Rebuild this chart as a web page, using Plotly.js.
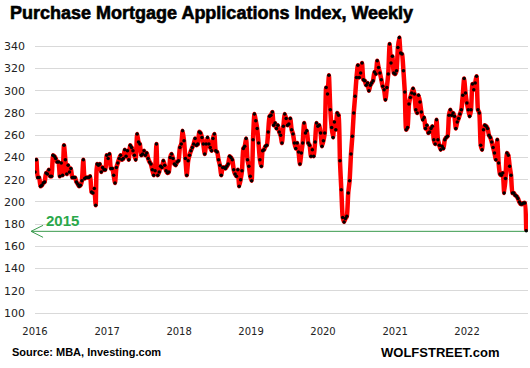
<!DOCTYPE html>
<html>
<head>
<meta charset="utf-8">
<script src="https://cdn.plot.ly/plotly-3.0.1.min.js"></script>
<style>
html,body{margin:0;padding:0;background:#fff;}
#chart{width:530px;height:368px;}
g.annotation[data-index="0"] text{stroke:#000;stroke-width:0.6px;}
</style>
</head>
<body>
<div id="chart"></div>
<script>
// Weekly MBA Purchase Index, first week ending 2016-01-01
const startDate = '2016-01-01';
const v2016 = [227,238,222,222,214,215,217,218,226,225,229,223,223,242,241,239,236,236,223,235,224,251,238,225,233,227,230,222,222,222,218,216,214,215,219,238,221,222,222,222,223,209,208,212,197,234,233,234,227,231,229,229,242,239,243,230,230,224,217,231,235,239,242,238,239,247,241,246,238,251,249];
const v2017 = [246,242,238,261,254,252,242,243,246,242,244,239,236,234,229,224,228,252,224,227,232,231,237,233,228,226,227,240,243,239,234,233,236,237,249,252,264,255,239,224,237,242,246,249,252,257,251,252,263,262,258,252,243,252,258,252,249,246,257,261,246,245,238,233,224,231,231,230];
const v2018 = [232,234,241,240,238,229,225,223,229,214,220,228,248,250,257,238,232,223,219,256,279,273,266,253,238,232,246,247,250,251,263,277,278,281,269,271,266,269,263,260,253,268,279,275,269,270,275,265,261,253,248,253,245,234,244,253,271,262,264,253,251,241,247,241,254,271,268,269];
const v2020 = [262,250,255,262,303,297,314,283,267,258,272,265,280,278,237,211,186,182,185,187,208,219,243,259,280,295,312,323,312,316,325,310,309,305,307,300,305,307,309,317,315,327,321,316,310,304,301,292,303,315,342,325,331,316,315,318,339,348,334,333,318,299,265,267,288,294,298,302,297];
const v2021 = [283,280,296,290,281,274,276,266,269,262,263,266,268,256,252,274,256,251,247,250,248,256,258,259,278,283,278,280,277,266,272,275,279,283,296,311,298,289,283,277,283,306,301,307,313,283,280,251,247,265,269,268,266,260,258,254,249,244,238,256,235,225,224,226,208,221,244,242,232,224,208,208,206,205,203,200,198,198,199,199,174];
const level2015 = 173.5;
const yTicks = [100,120,140,160,180,200,220,240,260,280,300,320,340];
const xTickYears = ['2016','2017','2018','2019','2020','2021','2022'];

const values = [].concat(v2016, v2017, v2018, v2020, v2021);
const dates = values.map((_, i) => {
  const d = new Date(startDate + 'T00:00:00Z');
  d.setUTCDate(d.getUTCDate() + 7 * i);
  return d.toISOString().slice(0, 10);
});

const trace = {
  x: dates, y: values, type: 'scatter', mode: 'lines+markers',
  line: {color: '#ff0000', width: 4.5, shape: 'spline', smoothing: 0.5},
  marker: {color: '#000000', size: 3.5},
  hoverinfo: 'skip'
};

const layout = {
  width: 530, height: 368,
  margin: {l: 35, r: 2, t: 33, b: 55},
  paper_bgcolor: '#ffffff', plot_bgcolor: '#ffffff',
  showlegend: false,
  title: {text: '', font: {size: 1}},
  xaxis: {type: 'date', range: ['2016-01-01', '2022-11-06'],
    tickvals: xTickYears.map(y => y + '-01-01'), ticktext: xTickYears,
    showgrid: false, zeroline: false, showline: true, linecolor: '#d9d9d9', linewidth: 1,
    ticks: '', ticklabelstandoff: 9,
    tickfont: {family: 'DejaVu Sans, sans-serif', size: 10, color: '#222'}},
  yaxis: {range: [100, 352], tickvals: yTicks, showgrid: true, gridcolor: '#d9d9d9', gridwidth: 1,
    zeroline: false, ticks: '', ticklabelstandoff: 9,
    tickfont: {family: 'DejaVu Sans, sans-serif', size: 11, color: '#222'}},
  shapes: [
    {type: 'line', xref: 'paper', yref: 'y', x0: -0.008, x1: 1, y0: level2015, y1: level2015,
      line: {color: '#3a9a4e', width: 1}, layer: 'below'},
    {type: 'path', xref: 'paper', yref: 'y', xsizemode: 'pixel', ysizemode: 'pixel',
      xanchor: -0.008, yanchor: level2015, path: 'M 12,6 L 0,0 L 12,-6',
      line: {color: '#3a9a4e', width: 1}}
  ],
  annotations: [
    {text: '<b>Purchase Mortgage Applications Index, Weekly</b>', xref: 'paper', yref: 'paper',
      x: -27/493, y: 1 + 20/280, xanchor: 'left', yanchor: 'middle', showarrow: false,
      font: {family: 'Liberation Sans, Arial, sans-serif', size: 18, color: '#000', weight: 700}},
    {text: '<b>2015</b>', xref: 'paper', yref: 'y', x: 0.018, y: 183, xanchor: 'left', yanchor: 'middle',
      showarrow: false, font: {family: 'Liberation Sans, Arial, sans-serif', size: 15, color: '#2aa84a'}},
    {text: '<b>Source: MBA, Investing.com</b>', xref: 'paper', yref: 'paper', x: -0.05, y: -0.14,
      xanchor: 'left', yanchor: 'middle', showarrow: false,
      font: {family: 'Liberation Sans, Arial, sans-serif', size: 11, color: '#000'}},
    {text: '<b>WOLFSTREET.com</b>', xref: 'paper', yref: 'paper', x: 0.945, y: -0.14,
      xanchor: 'right', yanchor: 'middle', showarrow: false,
      font: {family: 'Liberation Sans, Arial, sans-serif', size: 13, color: '#000'}}
  ]
};

Plotly.newPlot('chart', [trace], layout, {displayModeBar: false, staticPlot: true});
</script>
</body>
</html>
